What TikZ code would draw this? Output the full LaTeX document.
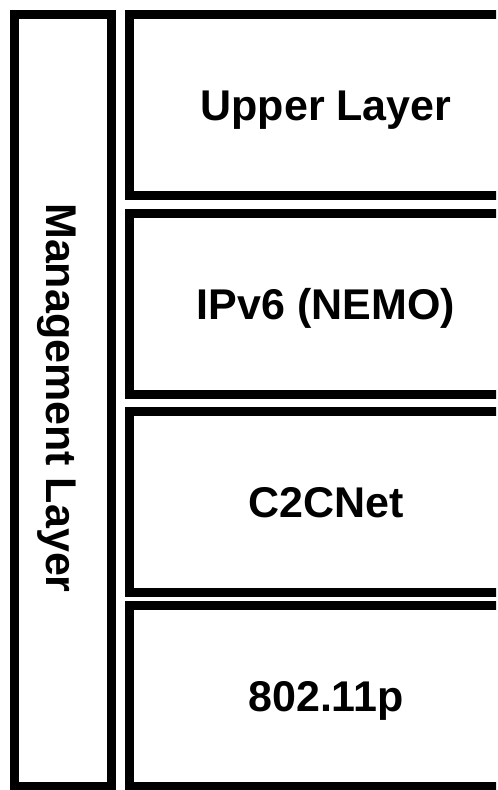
\documentclass[tikz,border=0pt]{standalone}
\usepackage{fontspec}
\setmainfont{Liberation Sans}
\usepackage{tikz}
\usetikzlibrary{positioning}
\tikzset{
  layerbox/.style={draw,line width=9pt,minimum width=393pt,minimum height=181pt,
                   inner sep=0pt,text height=31pt,text depth=0pt,
                   font=\fontsize{43}{50}\selectfont\bfseries,align=center},
  mgmtbox/.style={draw,line width=9pt,minimum width=97pt,minimum height=772pt,
                  inner sep=0pt},
  mgmtlabel/.style={rotate=-90,inner sep=0pt,text height=31pt,text depth=0pt,
                    font=\fontsize{43}{50}\selectfont\bfseries},
}

\begin{document}
\begin{tikzpicture}[node distance=8pt]
  \useasboundingbox[fill=white] (0,0) rectangle (498pt,-790pt);
  \begin{scope}
    \clip (0,0) rectangle (496pt,-790pt);
    \node[mgmtbox]                 (mgmt)  at (63pt,-400.5pt) {};
    \node[mgmtlabel]               (mgmtt) at (61.5pt,-398pt) {Management Layer};
    \node[layerbox]                (upper) at (326pt,-105pt)  {Upper Layer};
    \node[layerbox,below=9pt of upper] (ipv6)  {IPv6 (NEMO)};
    \node[layerbox,below=of ipv6]      (c2c)   {C2CNet};
    \node[layerbox,below=4pt of c2c]   (phy)   {802.11p};
  \end{scope}
\end{tikzpicture}
\end{document}
